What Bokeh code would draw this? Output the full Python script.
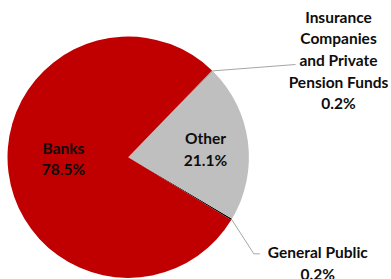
import math
from bokeh.plotting import figure
from bokeh.models import ColumnDataSource
from bokeh.core.properties import value
from bokeh.embed import file_html
from bokeh.resources import INLINE

# ---- data ----
categories = ["General Public", "Other", "Insurance Companies\nand Private Pension Funds", "Banks"]
label_text = ["General Public", "Other", "Insurance\nCompanies\nand Private\nPension Funds", "Banks"]
shares = [0.2, 21.1, 0.2, 78.5]
colors = ["#000000", "#BFBFBF", "#A6A6A6", "#C00000"]

# ---- layout (figure pixel coords, y up) ----
W, H = 391, 279
CX, CY, R = 127.7, 122.3, 120.7
START_DEG = -31.4
# label anchor positions (x, y) in figure coords
label_pos = [(317.3, 16.5), (205.0, 130.5), (338.0, 219.5), (63.0, 121.0)]
# leader line elbows / ends for outside labels (index -> list of points)
leader_pts = {0: [(253.3, 25.7), (259.3, 25.7)], 2: [(295.0, 215.0)]}

p = figure(width=W, height=H, x_range=(0, W), y_range=(0, H),
           output_backend="svg", toolbar_location=None, min_border=0)
p.axis.visible = False
p.grid.visible = False
p.outline_line_color = None
p.background_fill_color = "white"
p.border_fill_color = "white"

total = sum(shares)
starts, ends, mids = [], [], []
a = math.radians(START_DEG)
for v in shares:
    span = 2 * math.pi * v / total
    starts.append(a)
    ends.append(a + span)
    mids.append(a + span / 2)
    a += span

src = ColumnDataSource(dict(start=starts, end=ends, color=colors))
p.wedge(x=CX, y=CY, radius=R, start_angle="start", end_angle="end",
        fill_color="color", line_color=None, source=src)

# leader lines
for i, pts in leader_pts.items():
    xs = [CX + R * math.cos(mids[i])] + [q[0] for q in pts]
    ys = [CY + R * math.sin(mids[i])] + [q[1] for q in pts]
    p.line(xs, ys, line_color="#A6A6A6", line_width=1)

texts = [f"{lt}\n{v:.1f}%" for lt, v in zip(label_text, shares)]
tsrc = ColumnDataSource(dict(x=[q[0] for q in label_pos], y=[q[1] for q in label_pos], t=texts))
p.text(x="x", y="y", text="t", source=tsrc, text_align="center", text_baseline="middle",
       text_font=value("Lato"), text_font_style="bold", text_font_size="15.5px",
       text_color="#0D0D0D", text_line_height=1.2)

open("out.html", "w").write(file_html(p, INLINE))
